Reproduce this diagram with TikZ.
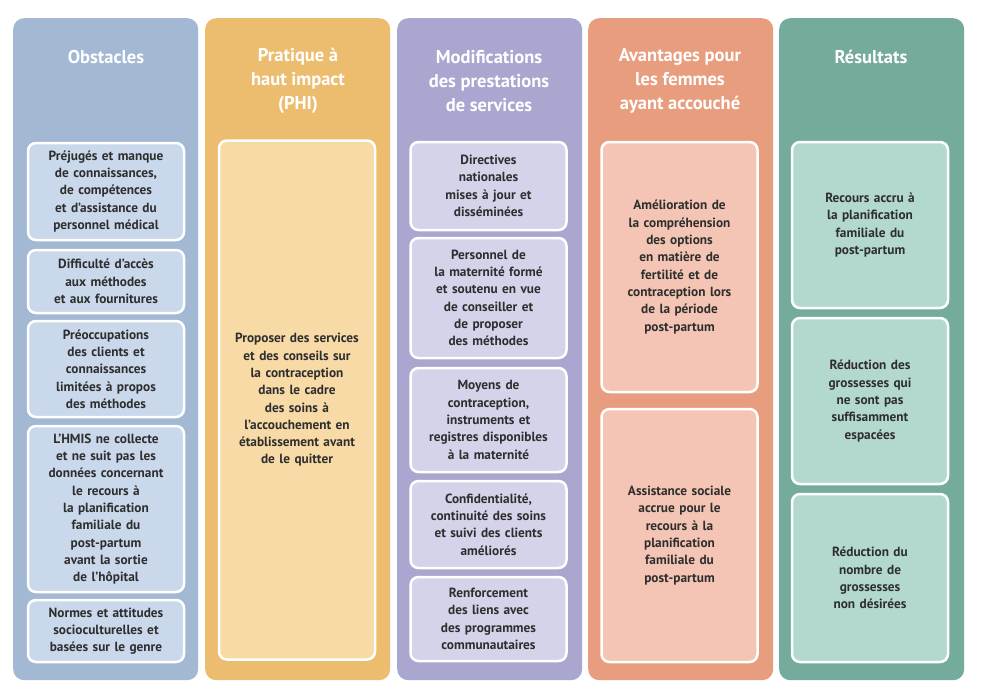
\documentclass[tikz,border=0pt]{standalone}
\usepackage{fontspec}
\setmainfont{PT Sans}
\usetikzlibrary{positioning}
\definecolor{obsC}{HTML}{A3B8D3}\definecolor{obsB}{HTML}{C9D8EB}
\definecolor{phiC}{HTML}{EDBD6F}\definecolor{phiB}{HTML}{F7DAA6}
\definecolor{modC}{HTML}{A9A6D0}\definecolor{modB}{HTML}{D5D3EA}
\definecolor{avaC}{HTML}{E99D7F}\definecolor{avaB}{HTML}{F4C5B4}
\definecolor{resC}{HTML}{75AB9C}\definecolor{resB}{HTML}{B3D9CF}
\definecolor{txt}{HTML}{2E2E2E}
\tikzset{
  column/.style={rounded corners=11pt, minimum width=185pt, anchor=north west, inner sep=0pt},
  title/.style={text=white, font=\bfseries\fontsize{18.5}{24}\selectfont, align=center},
  cell/.style={draw=white, line width=2.5pt, rounded corners=8pt, minimum width=156pt,
    text width=148pt, align=center, text=txt, inner sep=0pt,
    font=\bfseries\fontsize{13.3}{17.3}\selectfont}
}
\begin{document}
\begin{tikzpicture}[x=1pt, y=-1pt]
\useasboundingbox (0,0) rectangle (984,688);
\fill[white] (0,0) rectangle (984,688);
% columns
\node (obs) [column, fill=obsC, minimum height=662pt] at (13,18) {};
\node (phi) [column, fill=phiC, minimum height=662pt] at (205,18) {};
\node (mod) [column, fill=modC, minimum height=662pt] at (397,18) {};
\node (ava) [column, fill=avaC, minimum height=662pt] at (588,18) {};
\node (res) [column, fill=resC, minimum height=662pt] at (779,18) {};
% titles
\node (tobs) [title] at (106,57) {Obstacles};
\node (tphi) [title] at (298,81) {Pratique à\\haut impact\\(PHI)};
\node (tmod) [title] at (489,81) {Modifications\\des prestations\\de services};
\node (tava) [title] at (680,81) {Avantages pour\\les femmes\\ayant accouché};
\node (tres) [title] at (871,57) {Résultats};
% obstacles
\node (o1) [cell, fill=obsB, minimum height=97pt] at (106,191.5) {Préjugés et manque\\de connaissances,\\de compétences\\et d’assistance du\\personnel médical};
\node (o2) [cell, fill=obsB, minimum height=63pt] at (106,281.5) {Difficulté d’accès\\aux méthodes\\et aux fournitures};
\node (o3) [cell, fill=obsB, minimum height=96pt] at (106,369) {Préoccupations\\des clients et\\connaissances\\limitées à propos\\des méthodes};
\node (o4) [cell, fill=obsB, minimum height=166pt] at (106,509) {L’HMIS ne collecte\\et ne suit pas les\\données concernant\\le recours à\\la planification\\familiale du\\post-partum\\avant la sortie\\de l’hôpital};
\node (o5) [cell, fill=obsB, minimum height=62pt] at (106,631) {Normes et attitudes\\socioculturelles et\\basées sur le genre};
% PHI
\node (p1) [cell, fill=phiB, minimum height=519pt] at (297,400) {Proposer des services\\et des conseils sur\\la contraception\\dans le cadre\\des soins à\\l’accouchement en\\établissement avant\\de le quitter};
% modifications
\node (m1) [cell, fill=modB, minimum height=88pt] at (488.5,186) {Directives\\nationales\\mises à jour et\\disséminées};
\node (m2) [cell, fill=modB, minimum height=120pt] at (488.5,298) {Personnel de\\la maternité formé\\et soutenu en vue\\de conseiller et\\de proposer\\des méthodes};
\node (m3) [cell, fill=modB, minimum height=104pt] at (488.5,420) {Moyens de\\contraception,\\instruments et\\registres disponibles\\à la maternité};
\node (m4) [cell, fill=modB, minimum height=87pt] at (488.5,524.5) {Confidentialité,\\continuité des soins\\et suivi des clients\\améliorés};
\node (m5) [cell, fill=modB, minimum height=84pt] at (488.5,619) {Renforcement\\des liens avec\\des programmes\\communautaires};
% avantages
\node (a1) [cell, fill=avaB, minimum height=250pt] at (679.5,267) {Amélioration de\\la compréhension\\des options\\en matière de\\fertilité et de\\contraception lors\\de la période\\post-partum};
\node (a2) [cell, fill=avaB, minimum height=253pt] at (679.5,535.5) {Assistance sociale\\accrue pour le\\recours à la\\planification\\familiale du\\post-partum};
% résultats
\node (r1) [cell, fill=resB, minimum height=166pt] at (870,225) {Recours accru à\\la planification\\familiale du\\post-partum};
\node (r2) [cell, fill=resB, minimum height=166pt] at (870,401) {Réduction des\\grossesses qui\\ne sont pas\\suffisamment\\espacées};
\node (r3) [cell, fill=resB, minimum height=168pt] at (870,578) {Réduction du\\nombre de\\grossesses\\non désirées};
\end{tikzpicture}
\end{document}
